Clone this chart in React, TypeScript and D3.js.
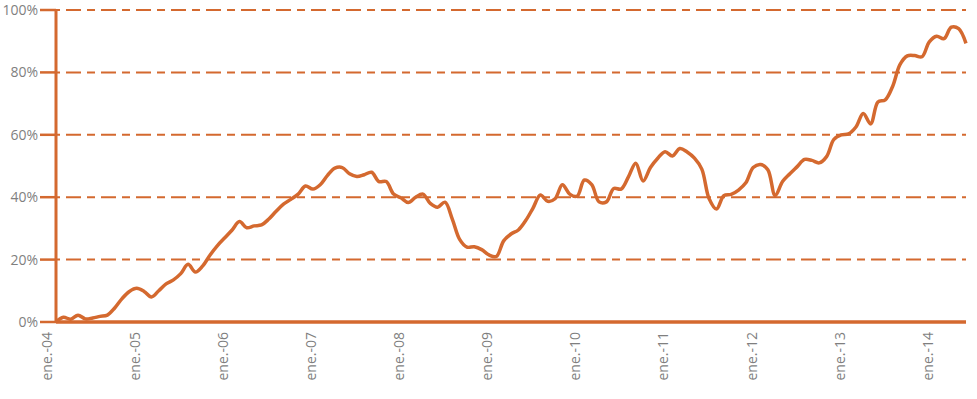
import React, { useEffect, useRef } from "react";
import * as d3 from "d3";

// monthly values (%), starting ene.-04
const startYear = 2004;
const values = [
  0, 1.5, 0.9, 2.2, 1.0, 1.3, 1.8, 2.2, 4.5, 7.5, 9.8, 10.8,
  9.8, 8.0, 10, 12.2, 13.5, 15.5, 18.5, 16.0, 18.0, 21.5, 24.5, 27,
  29.5, 32.2, 30.2, 30.8, 31.1, 33, 35.5, 37.8, 39.3, 41, 43.6, 42.6,
  44, 47, 49.3, 49.5, 47.5, 46.6, 47.2, 48, 45, 45, 41, 39.8,
  38.3, 40, 41, 38, 36.8, 38.4, 33, 26.5, 24, 24.1, 23.2, 21.5,
  21, 26, 28.2, 29.5, 32.5, 36.5, 40.7, 38.7, 39.5, 44, 41, 40.3,
  45.5, 44, 38.5, 38.5, 42.8, 42.6, 46.5, 50.9, 45.2, 49.5, 52.5, 54.6,
  53.2, 55.6, 54.5, 52.5, 49, 39.5, 36.2, 40.5, 40.9, 42.3, 44.6, 49.5,
  50.5, 48.8, 40.5, 45, 47.5, 49.8, 52.1, 51.8, 51, 53, 58.5, 60,
  60.3, 62.5, 66.8, 63.5, 70.5, 71.2, 75.5, 82.5, 85.3, 85.4, 85, 89.8,
  91.6, 90.8, 94.5, 94, 89.3,
];
const yTicks = [0, 20, 40, 60, 80, 100];
const xTickLabels = [
  "ene.-04", "ene.-05", "ene.-06", "ene.-07", "ene.-08", "ene.-09",
  "ene.-10", "ene.-11", "ene.-12", "ene.-13", "ene.-14",
];

const ORANGE = "#d4692f";
const GREY = "#7f7f7f";

const App = () => {
  const svgRef = useRef<SVGSVGElement>(null);
  const width = 977;
  const height = 399;

  useEffect(() => {
    const svg = d3.select(svgRef.current);
    svg.selectAll("*").remove();

    const margin = { top: 10, right: 11, bottom: 77, left: 56 };
    const x = d3
      .scaleLinear()
      .domain([0, values.length - 1])
      .range([margin.left, width - margin.right]);
    const y = d3
      .scaleLinear()
      .domain([0, 100])
      .range([height - margin.bottom, margin.top]);

    // grid lines
    svg.append("g")
      .selectAll("line")
      .data(yTicks.filter((d) => d > 0))
      .enter()
      .append("line")
      .attr("x1", margin.left)
      .attr("x2", width - margin.right)
      .attr("y1", (d) => y(d))
      .attr("y2", (d) => y(d))
      .attr("stroke", ORANGE)
      .attr("stroke-width", 2)
      .attr("stroke-dasharray", "4,6,15,6,4,0");

    // y tick marks and labels
    const yAxis = svg.append("g");
    yAxis.selectAll("line")
      .data(yTicks)
      .enter()
      .append("line")
      .attr("x1", 40)
      .attr("x2", margin.left)
      .attr("y1", (d) => y(d))
      .attr("y2", (d) => y(d))
      .attr("stroke", ORANGE)
      .attr("stroke-width", 2.5);
    yAxis.selectAll("text")
      .data(yTicks)
      .enter()
      .append("text")
      .attr("x", 38)
      .attr("y", (d) => y(d))
      .attr("dy", "0.36em")
      .attr("text-anchor", "end")
      .attr("font-family", "Open Sans")
      .attr("font-size", 14)
      .attr("fill", GREY)
      .text((d) => `${d}%`);

    // x labels
    svg.append("g")
      .selectAll("text")
      .data(xTickLabels)
      .enter()
      .append("text")
      .attr("transform", (d, i) => `translate(${x(i * 12) - 4},${height - margin.bottom + 10}) rotate(-90)`)
      .attr("text-anchor", "end")
      .attr("font-family", "Open Sans")
      .attr("font-size", 14)
      .attr("fill", GREY)
      .text((d) => d);

    // axes lines
    svg.append("line")
      .attr("x1", margin.left)
      .attr("x2", margin.left)
      .attr("y1", margin.top)
      .attr("y2", height - margin.bottom)
      .attr("stroke", ORANGE)
      .attr("stroke-width", 3);
    svg.append("line")
      .attr("x1", margin.left)
      .attr("x2", width - margin.right)
      .attr("y1", y(0))
      .attr("y2", y(0))
      .attr("stroke", ORANGE)
      .attr("stroke-width", 3.5);

    const line = d3
      .line<number>()
      .x((d, i) => x(i))
      .y((d) => y(d))
      .curve(d3.curveCatmullRom.alpha(0.5));

    svg.append("path")
      .datum(values)
      .attr("d", line)
      .attr("fill", "none")
      .attr("stroke", ORANGE)
      .attr("stroke-width", 3.5)
      .attr("stroke-linejoin", "round");
  }, []);

  return (
    <svg
      ref={svgRef}
      width={width}
      height={height}
      style={{ position: "absolute", left: 0, top: 0, background: "#fff" }}
    ></svg>
  );
};

export default App;
